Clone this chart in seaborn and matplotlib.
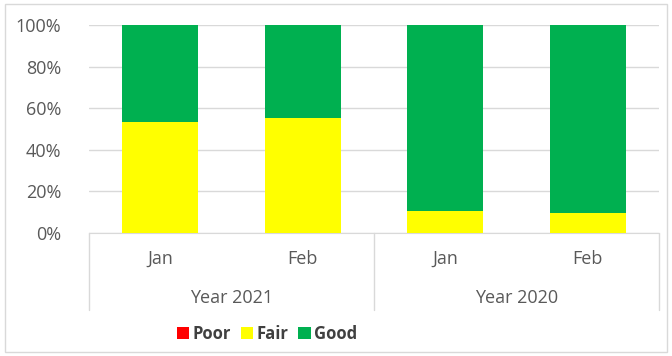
import matplotlib
matplotlib.use('Agg')
import matplotlib.pyplot as plt
import seaborn as sns
import pandas as pd
from matplotlib.patches import Patch, Rectangle

# Dados
meses = ['Jan', 'Feb', 'Jan', 'Feb']
anos = ['Year 2021', 'Year 2020']
chaves = ['2021 Jan', '2021 Feb', '2020 Jan', '2020 Feb']
poor = [0.0, 0.0, 0.0, 0.0]
fair = [0.535, 0.554, 0.106, 0.098]
good = [1 - p - f for p, f in zip(poor, fair)]

cores = {'Poor': '#FF0000', 'Fair': '#FFFF00', 'Good': '#00B050'}
texto = '#595959'

df = pd.DataFrame({'chave': chaves, 'Poor': poor, 'Fair': fair, 'Good': good})
df['topo_poor'] = df['Poor']
df['topo_fair'] = df['Poor'] + df['Fair']
df['topo_good'] = df['Poor'] + df['Fair'] + df['Good']

sns.set_style('white')
plt.rcParams['font.family'] = ['Open Sans', 'DejaVu Sans']

fig = plt.figure(figsize=(6.72, 3.56), dpi=100)
ax = fig.add_axes([89 / 672, 1 - 233 / 356, (659 - 89) / 672, (233 - 25) / 356])

# Barras empilhadas (cumulativas, da maior para a menor)
for col, nome in [('topo_good', 'Good'), ('topo_fair', 'Fair'), ('topo_poor', 'Poor')]:
    sns.barplot(data=df, x='chave', y=col, color=cores[nome], width=0.53,
                saturation=1, ax=ax, order=chaves, zorder=3, linewidth=0)

ax.set_xlim(-0.5, 3.5)
ax.set_ylim(0, 1)
ax.set_yticks([0, 0.2, 0.4, 0.6, 0.8, 1.0])
ax.set_yticklabels(['0%', '20%', '40%', '60%', '80%', '100%'], color=texto, fontsize=13)
ax.tick_params(axis='y', length=0, pad=20)
ax.set_xticks([])
ax.set_xlabel('')
ax.set_ylabel('')
ax.grid(axis='y', color='#d9d9d9', linewidth=1, zorder=0)
for s in ['top', 'right', 'left']:
    ax.spines[s].set_visible(False)
ax.spines['bottom'].set_color('#d9d9d9')

# Rotulos de categoria em dois niveis
h_px = 233 - 25
for i, m in enumerate(meses):
    ax.text(i, -26 / h_px, m, ha='center', va='center', color=texto, fontsize=13,
            transform=ax.get_xaxis_transform())
for j, a in enumerate(anos):
    ax.text(0.25 + 0.5 * j, -65 / h_px, a, ha='center', va='center', color=texto,
            fontsize=13, transform=ax.transAxes)
for xs in [0, 0.5, 1]:
    ax.plot([xs, xs], [0, -77 / h_px], color='#d9d9d9', linewidth=1,
            transform=ax.transAxes, clip_on=False)

# Legenda
handles = [Patch(facecolor=cores[n], edgecolor='none', label=n) for n in ['Poor', 'Fair', 'Good']]
leg = fig.legend(handles=handles, loc='center', bbox_to_anchor=(267 / 672, 1 - 334 / 356),
                 ncol=3, frameon=False, handlelength=0.75, handleheight=0.75,
                 handletextpad=0.2, columnspacing=0.6, prop={'size': 12, 'weight': 'bold'})
for t in leg.get_texts():
    t.set_color('#404040')

# Borda da area do grafico
fig.patches.append(Rectangle((5 / 672, 4 / 356), 662 / 672, 348 / 356, transform=fig.transFigure,
                             fill=False, edgecolor='#d9d9d9', linewidth=1))

fig.savefig('out.png', dpi=100)
